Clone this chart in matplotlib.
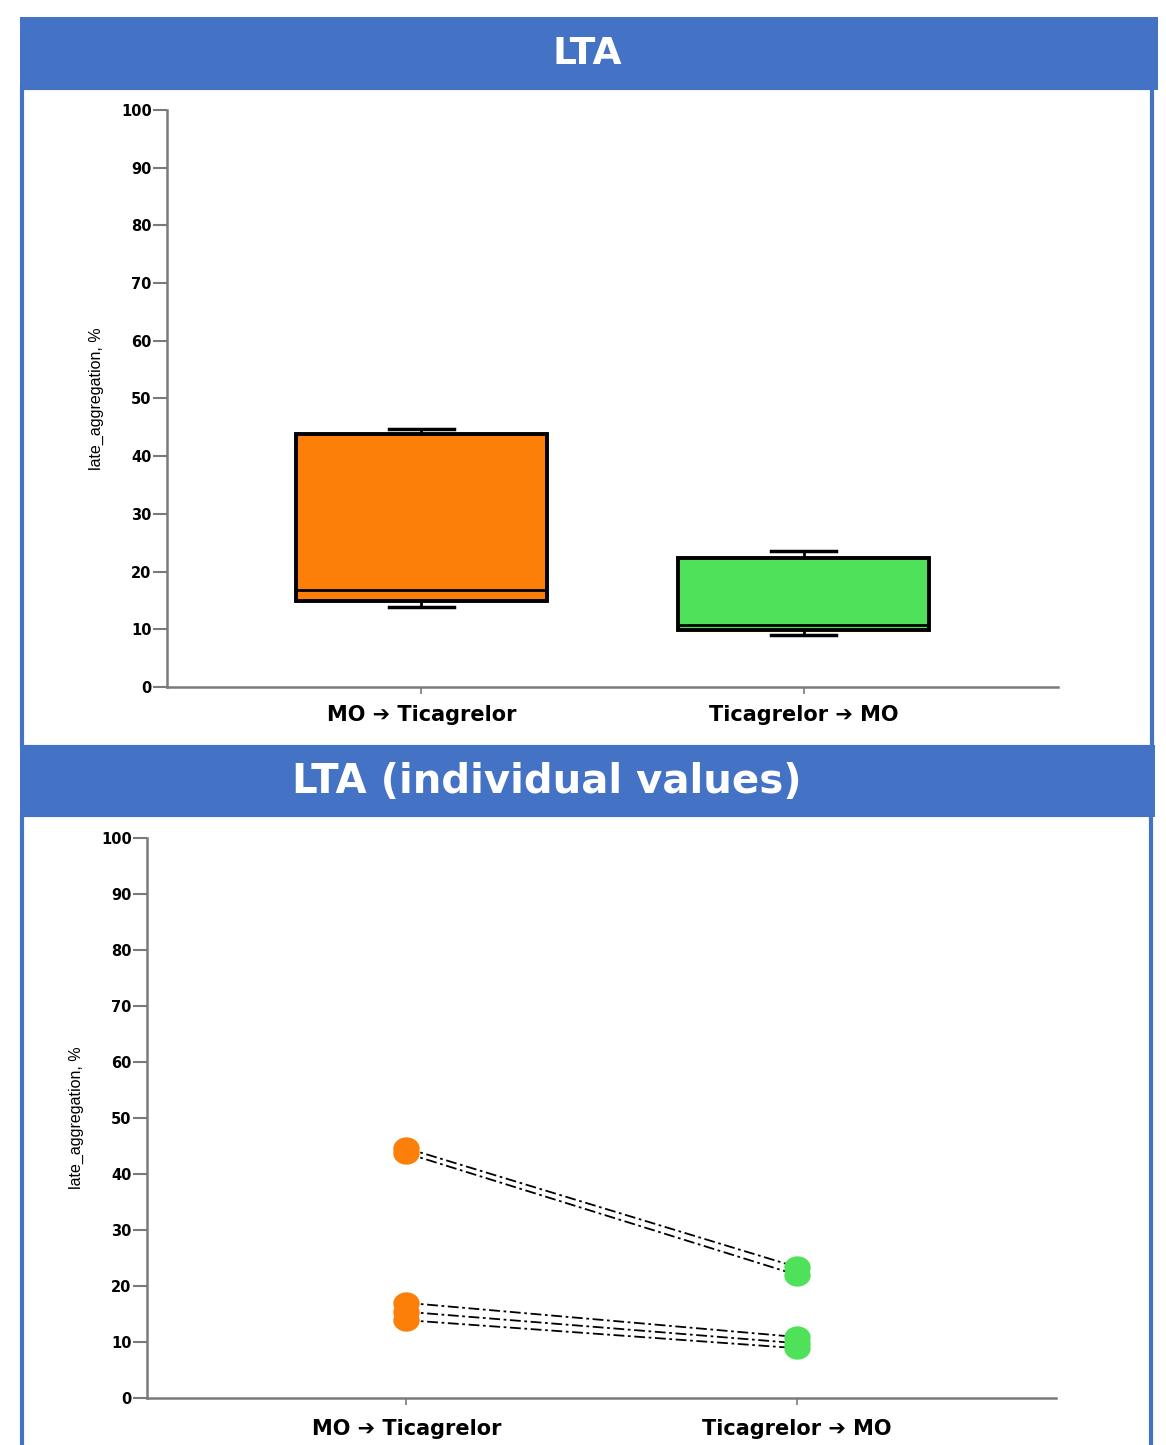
import matplotlib
matplotlib.use("Agg")
import numpy as np
import matplotlib.pyplot as plt
from matplotlib.patches import Rectangle

# figure size in pixels
W, H = 1166, 1445

# data
groups = ["MO \u2794 Ticagrelor", "Ticagrelor \u2794 MO"]
box_colors = ["#FB7F08", "#50E15A"]
# box plot summaries (whisker low, Q1, median, Q3, whisker high)
box_whislo = [13.9, 9.0]
box_q1 = [14.9, 9.9]
box_med = [16.8, 10.7]
box_q3 = [43.8, 22.4]
box_whishi = [44.7, 23.6]
# paired individual values
before_vals = [44.6, 43.7, 17.0, 15.4, 13.9]
after_vals = [23.4, 22.0, 10.9, 9.8, 8.9]
yticks = [0, 10, 20, 30, 40, 50, 60, 70, 80, 90, 100]
ylabel = "late_aggregation, %"
titles = ["LTA", "LTA (individual values)"]

BLUE = "#4472C4"
AXCOL = "#7a7a7a"


def rect(x0, y0, x1, y1):
    # pixel box -> figure fraction
    return [x0 / W, 1 - y1 / H, (x1 - x0) / W, (y1 - y0) / H]


fig = plt.figure(figsize=(W / 100, H / 100), dpi=100)

# white panels with blue border
for (x0, y0, x1, y1) in [(22, 88, 1152, 747), (22, 815, 1151, 1460)]:
    fig.patches.append(Rectangle((x0 / W, 1 - y1 / H), (x1 - x0) / W, (y1 - y0) / H,
                                 transform=fig.transFigure, facecolor="white",
                                 edgecolor=BLUE, lw=3, zorder=-2))

# blue header bars (title centre x, font size)
headers = [(20, 17, 1158, 90), (20, 745, 1155, 817)]
title_x = [587, 547]
title_size = [27, 29]
for (x0, y0, x1, y1), t, tx, ts in zip(headers, titles, title_x, title_size):
    fig.patches.append(Rectangle((x0 / W, 1 - y1 / H), (x1 - x0) / W, (y1 - y0) / H,
                                 transform=fig.transFigure, facecolor=BLUE,
                                 edgecolor="none", zorder=-1))
    fig.text(tx / W, 1 - (y0 + y1 + 2) / 2 / H, t,
             color="white", fontsize=ts, fontweight="bold",
             family=["DejaVu Sans"],
             ha="center", va="center", zorder=2)


def style_axes(ax, label_pad):
    ax.set_zorder(5)
    ax.set_ylim(0, 100)
    ax.set_xlim(0.335, 2.665)
    ax.set_yticks(yticks)
    ax.set_xticks([1, 2])
    ax.set_xticklabels(groups, fontsize=15, fontweight="bold",
                       family=["DejaVu Sans"])
    for lab in ax.get_yticklabels():
        lab.set_fontweight("bold")
        lab.set_fontsize(10.5)
    for s in ["top", "right"]:
        ax.spines[s].set_visible(False)
    for s in ["left", "bottom"]:
        ax.spines[s].set_color(AXCOL)
        ax.spines[s].set_linewidth(1.8)
    ax.tick_params(axis="y", length=10, width=1.5, color=AXCOL, pad=1)
    ax.tick_params(axis="x", length=5, width=1.2, color=AXCOL, pad=label_pad)
    ax.set_ylabel(ylabel, fontsize=11.5, family=["Liberation Sans Narrow", "Liberation Sans"],
                  labelpad=12)
    ax.patch.set_alpha(0)


# top panel: box plot
ax1 = fig.add_axes(rect(167, 110, 1058, 687))
stats = []
for i in range(len(groups)):
    stats.append(dict(whislo=box_whislo[i], q1=box_q1[i], med=box_med[i],
                      q3=box_q3[i], whishi=box_whishi[i], fliers=[]))
bp = ax1.bxp(stats, positions=[1, 2], widths=0.655, patch_artist=True,
             showfliers=False, capwidths=0.17,
             boxprops=dict(edgecolor="black", linewidth=2.8),
             whiskerprops=dict(color="black", linewidth=2),
             capprops=dict(color="black", linewidth=2.5),
             medianprops=dict(color="black", linewidth=2))
for patch, c in zip(bp["boxes"], box_colors):
    patch.set_facecolor(c)
style_axes(ax1, 8)

# bottom panel: individual values
# slightly wide ellipse marker shape
th = np.linspace(0, 2 * np.pi, 40)
ell = np.column_stack([1.18 * np.cos(th), np.sin(th)])
ax2 = fig.add_axes(rect(147, 838, 1056, 1398))
for b, a in zip(before_vals, after_vals):
    ax2.plot([1, 2], [b, a], color="black", linewidth=1.3, zorder=2,
             dashes=(6, 2, 1.5, 2))
ax2.plot([1] * len(before_vals), before_vals, linestyle="none", marker=ell,
         color=box_colors[0], markersize=19, zorder=3, markeredgewidth=0)
ax2.plot([2] * len(after_vals), after_vals, linestyle="none", marker=ell,
         color=box_colors[1], markersize=19, zorder=3, markeredgewidth=0)
style_axes(ax2, 10)

fig.savefig("out.png", dpi=100)
